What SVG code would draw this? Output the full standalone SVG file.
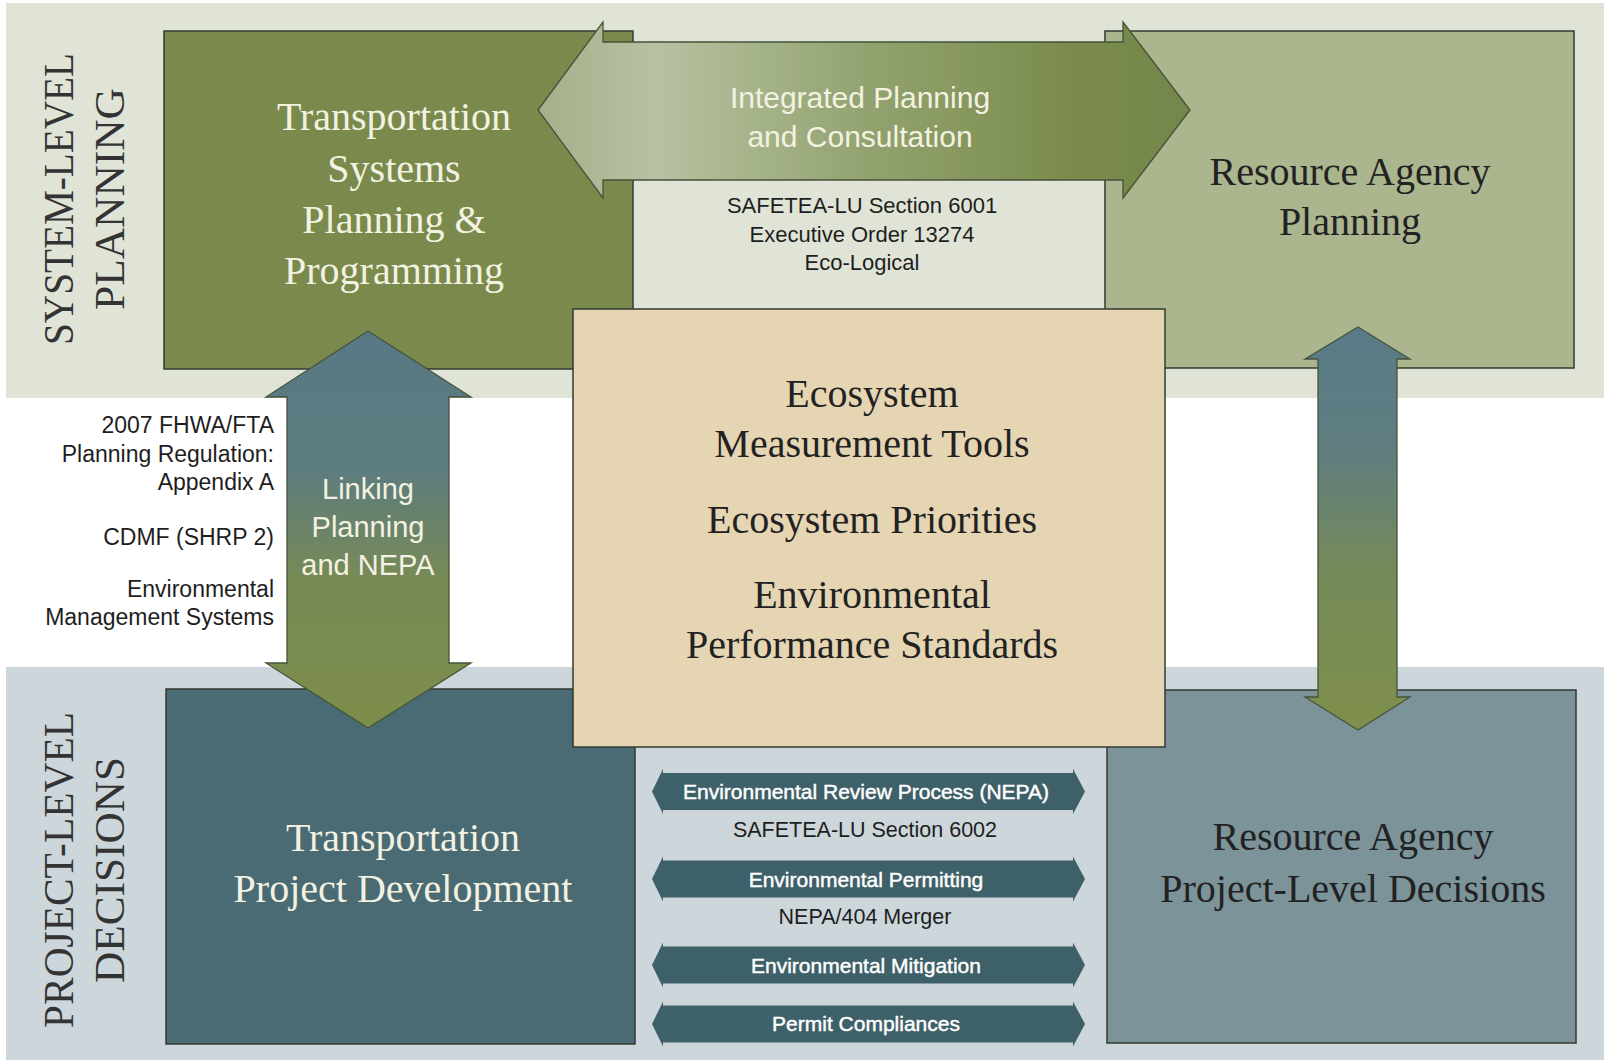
<svg xmlns="http://www.w3.org/2000/svg" width="1604" height="1060" viewBox="0 0 1604 1060">
<style>
.box{stroke:#333a30;stroke-width:1.5}
.serif{font-family:"Liberation Serif","Times New Roman",serif;font-size:40px;text-anchor:middle}
.band{font-family:"Liberation Serif","Times New Roman",serif;font-size:43px;text-anchor:middle;fill:#333}
.sans{font-family:"Liberation Sans",Arial,sans-serif;text-anchor:middle}
.light{fill:#f3f2e2}
.dark{fill:#222}
.note{font-family:"Liberation Sans",Arial,sans-serif;font-size:22px;fill:#1e1e1e}
.left{font-size:23px;text-anchor:end}
.proj{font-size:21.5px;text-anchor:middle}
.arr{stroke:#44533a;stroke-width:1.3}
.small{fill:#3e6068}
.slabel{font-family:"Liberation Sans",Arial,sans-serif;font-size:21px;text-anchor:middle;fill:#fff;stroke:#fff;stroke-width:0.45}
</style>
<defs>
<linearGradient id="gH" x1="538" y1="0" x2="1190" y2="0" gradientUnits="userSpaceOnUse">
<stop offset="0" stop-color="#a3b08a"/>
<stop offset="0.18" stop-color="#b7c2a2"/>
<stop offset="0.5" stop-color="#93a370"/>
<stop offset="0.82" stop-color="#7a8b4c"/>
<stop offset="1" stop-color="#74864a"/>
</linearGradient>
<linearGradient id="gVL" x1="0" y1="331" x2="0" y2="728" gradientUnits="userSpaceOnUse">
<stop offset="0" stop-color="#577985"/>
<stop offset="0.35" stop-color="#5d7c7e"/>
<stop offset="0.62" stop-color="#778a56"/>
<stop offset="1" stop-color="#7d8d4a"/>
</linearGradient>
<linearGradient id="gVR" x1="0" y1="327" x2="0" y2="730" gradientUnits="userSpaceOnUse">
<stop offset="0" stop-color="#5a7b87"/>
<stop offset="0.3" stop-color="#5f7d80"/>
<stop offset="0.6" stop-color="#758a5a"/>
<stop offset="1" stop-color="#7f8f4b"/>
</linearGradient>
<path id="sa" d="M652,0 L663,-22.5 L663,-18.5 L1073,-18.5 L1073,-22.5 L1085,0 L1073,22.5 L1073,18.5 L663,18.5 L663,22.5 Z"/>
</defs>

<rect width="1604" height="1060" fill="#ffffff"/>
<g id="band-system">
<rect x="6" y="3" width="1598" height="395" fill="#dfe4d6"/>
<text class="band" transform="translate(73,199) rotate(-90)" textLength="292" lengthAdjust="spacingAndGlyphs">SYSTEM-LEVEL</text>
<text class="band" transform="translate(124,199) rotate(-90)" textLength="222" lengthAdjust="spacingAndGlyphs">PLANNING</text>
</g>
<g id="band-project">
<rect x="6" y="667" width="1598" height="393" fill="#cdd6da"/>
<text class="band" transform="translate(73,870) rotate(-90)" textLength="316" lengthAdjust="spacingAndGlyphs">PROJECT-LEVEL</text>
<text class="band" transform="translate(124,870) rotate(-90)" textLength="226" lengthAdjust="spacingAndGlyphs">DECISIONS</text>
</g>

<g id="node-transport-planning">
<rect class="box" x="164" y="31" width="469" height="338" fill="#7a8a4c"/>
<text class="serif light" x="394" y="130">Transportation</text>
<text class="serif light" x="394" y="182">Systems</text>
<text class="serif light" x="394" y="233">Planning &amp;</text>
<text class="serif light" x="394" y="284">Programming</text>
</g>
<g id="node-resource-planning">
<rect class="box" x="1105" y="31" width="469" height="337" fill="#abb58e"/>
<text class="serif dark" x="1350" y="185">Resource Agency</text>
<text class="serif dark" x="1350" y="235">Planning</text>
</g>
<g id="node-transport-project">
<rect class="box" x="166" y="689" width="469" height="355" fill="#4a6b73"/>
<text class="serif light" x="403" y="851">Transportation</text>
<text class="serif light" x="403" y="902">Project Development</text>
</g>
<g id="node-resource-project">
<rect class="box" x="1107" y="690" width="469" height="353" fill="#7c9499"/>
<text class="serif dark" x="1353" y="850">Resource Agency</text>
<text class="serif dark" x="1353" y="902">Project-Level Decisions</text>
</g>
<g id="node-ecosystem">
<rect class="box" x="573" y="309" width="592" height="438" fill="#e6d5b3"/>
<text class="serif dark" x="872" y="407">Ecosystem</text>
<text class="serif dark" x="872" y="457">Measurement Tools</text>
<text class="serif dark" x="872" y="533">Ecosystem Priorities</text>
<text class="serif dark" x="872" y="608">Environmental</text>
<text class="serif dark" x="872" y="658">Performance Standards</text>
</g>

<g id="notes-system">
<text class="note" x="862" y="213" text-anchor="middle">SAFETEA-LU Section 6001</text>
<text class="note" x="862" y="242" text-anchor="middle">Executive Order 13274</text>
<text class="note" x="862" y="270" text-anchor="middle">Eco-Logical</text>
</g>
<g id="notes-linking">
<text class="note left" x="274" y="433">2007 FHWA/FTA</text>
<text class="note left" x="274" y="462">Planning Regulation:</text>
<text class="note left" x="274" y="490">Appendix A</text>
<text class="note left" x="274" y="545">CDMF (SHRP 2)</text>
<text class="note left" x="274" y="597">Environmental</text>
<text class="note left" x="274" y="625">Management Systems</text>
</g>
<g id="notes-project">
<text class="note proj" x="865" y="837">SAFETEA-LU Section 6002</text>
<text class="note proj" x="865" y="924">NEPA/404 Merger</text>
</g>

<g id="connectors">
<path class="arr" fill="url(#gH)" d="M538,110 L603,22 L603,42 L1123,42 L1123,22 L1190,110 L1123,198 L1123,180 L603,180 L603,198 Z"/>
<text class="sans light" x="860" y="108" font-size="30">Integrated Planning</text>
<text class="sans light" x="860" y="147" font-size="30">and Consultation</text>

<path class="arr" fill="url(#gVL)" d="M368,331 L471,397 L449,397 L449,663 L471,663 L368,728 L266,663 L287,663 L287,397 L266,397 Z"/>
<text class="sans light" x="368" y="499" font-size="29">Linking</text>
<text class="sans light" x="368" y="537" font-size="29">Planning</text>
<text class="sans light" x="368" y="575" font-size="29">and NEPA</text>

<path class="arr" fill="url(#gVR)" d="M1358,327 L1410,359 L1397,359 L1397,697 L1410,697 L1358,730 L1305,697 L1318,697 L1318,359 L1305,359 Z"/>

<use href="#sa" y="791.5" class="small"/>
<use href="#sa" y="879" class="small"/>
<use href="#sa" y="965" class="small"/>
<use href="#sa" y="1024" class="small"/>
<text class="slabel" x="866" y="799">Environmental Review Process (NEPA)</text>
<text class="slabel" x="866" y="887">Environmental Permitting</text>
<text class="slabel" x="866" y="973">Environmental Mitigation</text>
<text class="slabel" x="866" y="1031">Permit Compliances</text>
</g>
</svg>
